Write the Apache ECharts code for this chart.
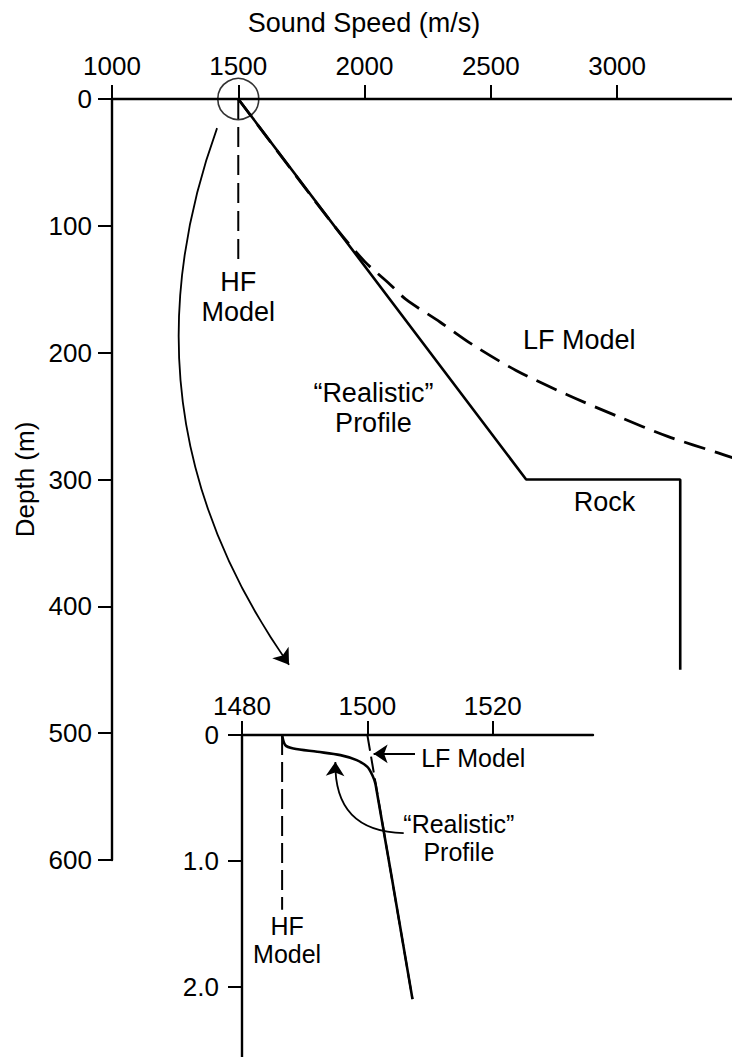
<!DOCTYPE html>
<html>
<head>
<meta charset="utf-8">
<title>Sound speed profiles</title>
<script src="https://cdn.jsdelivr.net/npm/echarts@6/dist/echarts.min.js"></script>
<style>
  html, body { margin: 0; padding: 0; background: #fff; }
  #chart { width: 732px; height: 1057px; }
</style>
</head>
<body>
<div id="chart"></div>
<script>
// ---- Main panel: sound speed (m/s) vs depth (m) ----
const mainSpeedRange = [1000, 3455];
const mainSpeedStep = 500;
const mainDepthRange = [0, 600];
const mainDepthStep = 100;

const realisticProfile = [[1500, 0], [2640, 300], [3250, 300], [3250, 450]];
const lfModel = [
  [1500, 0], [1700, 53], [1880, 100], [2000, 128], [2100, 146], [2164, 158],
  [2300, 176], [2430, 194], [2600, 214], [2800, 233], [3000, 250],
  [3200, 266], [3400, 279], [3460, 283]
];
const hfModel = [[1500, 0], [1500, 130]];
const zoomCircle = [[1500, 0]];
const zoomArrow = [[1416, 23], [1701, 446]];
const mainNotes = [
  { text: 'HF\nModel', at: [1500, 156] },
  { text: 'LF Model', at: [2850, 190] },
  { text: '\u201CRealistic\u201D\nProfile', at: [2035, 244] },
  { text: 'Rock', at: [2950, 318] }
];

// ---- Inset: top 2.5 m of the water column ----
const insetSpeedRange = [1480, 1536];
const insetSpeedStep = 20;
const insetDepthRange = [0, 2.56];
const insetDepthStep = 1;

const insetRealistic = [
  [1486.4, 0], [1486.9, 0.08], [1488.2, 0.107], [1492.0, 0.133], [1495.7, 0.16],
  [1498.3, 0.2], [1500.0, 0.253], [1500.8, 0.32], [1501.3, 0.39], [1507.2, 2.1]
];
const insetLf = [[1500, 0], [1507.2, 2.1]];
const insetHf = [[1486.4, 0], [1486.4, 1.39]];
const insetLfArrow = [[1507.6, 0.15], [1501.0, 0.15]];
const insetRealArrow = [[1505.8, 0.78], [1494.9, 0.215]];
const insetNotes = [
  { text: 'LF Model', at: [1516.9, 0.183] },
  { text: '\u201CRealistic\u201D\nProfile', at: [1514.6, 0.82] },
  { text: 'HF\nModel', at: [1487.2, 1.63] }
];

const FONT = '"Liberation Sans", Arial, Helvetica, sans-serif';
const INK = '#000';

function valueAxis(opts, label) {
  return Object.assign({
    type: 'value',
    splitLine: { show: false },
    axisLine: { show: true, onZero: false, lineStyle: { color: INK, width: 2.4 } },
    axisTick: { show: true, length: 14, lineStyle: { color: INK, width: 2 } },
    axisLabel: Object.assign({
      color: INK, fontSize: 26, fontFamily: FONT, showMaxLabel: false,
      formatter: v => String(v)
    }, label)
  }, opts);
}

function noteSeries(notes, axisIdx, size, lh) {
  return {
    type: 'scatter',
    xAxisIndex: axisIdx, yAxisIndex: axisIdx,
    symbolSize: 1,
    itemStyle: { color: 'rgba(0,0,0,0)' },
    silent: true,
    z: 5,
    label: {
      show: true, position: 'inside', color: INK, opacity: 1,
      textBorderWidth: 0, textBorderColor: 'transparent',
      fontSize: size, lineHeight: lh, fontFamily: FONT, align: 'center',
      formatter: p => p.name
    },
    data: notes.map(n => ({ name: n.text, value: n.at }))
  };
}

function arrowSeries(pts, axisIdx, curveness, size) {
  return {
    type: 'lines',
    coordinateSystem: 'cartesian2d',
    xAxisIndex: axisIdx, yAxisIndex: axisIdx,
    silent: true,
    symbol: ['none', 'arrow'],
    symbolSize: size,
    lineStyle: { color: INK, width: 1.8, opacity: 1, curveness: curveness },
    data: [{ coords: pts }]
  };
}

const chart = echarts.init(document.getElementById('chart'), null, { renderer: 'svg' });

chart.setOption({
  animation: false,
  backgroundColor: '#fff',
  textStyle: { fontFamily: FONT, color: INK },
  graphic: [{
    type: 'text', x: 364, y: 23,
    style: {
      text: 'Sound Speed (m/s)', fill: INK, font: '27px ' + FONT,
      textAlign: 'center', textVerticalAlign: 'middle'
    }
  }],
  grid: [
    { left: 112, top: 99, right: 0, bottom: 197, outerBoundsMode: 'none' },
    { left: 242, top: 735, right: 139, bottom: 0, outerBoundsMode: 'none' }
  ],
  xAxis: [
    valueAxis({
      gridIndex: 0, position: 'top',
      min: mainSpeedRange[0], max: mainSpeedRange[1], interval: mainSpeedStep
    }, { margin: 20 }),
    valueAxis({
      gridIndex: 1, position: 'top',
      min: insetSpeedRange[0], max: insetSpeedRange[1], interval: insetSpeedStep
    }, { margin: 16 })
  ],
  yAxis: [
    valueAxis({
      gridIndex: 0, inverse: true,
      min: mainDepthRange[0], max: mainDepthRange[1], interval: mainDepthStep,
      name: 'Depth (m)', nameLocation: 'middle', nameRotate: 90, nameGap: 73,
      nameTextStyle: { color: INK, fontSize: 26, fontFamily: FONT }
    }, { margin: 20, showMaxLabel: true }),
    valueAxis({
      gridIndex: 1, inverse: true,
      min: insetDepthRange[0], max: insetDepthRange[1], interval: insetDepthStep
    }, { margin: 23, formatter: v => (v === 0 ? '0' : v.toFixed(1)) })
  ],
  series: [
    {
      name: 'Realistic', type: 'line', xAxisIndex: 0, yAxisIndex: 0,
      data: realisticProfile, symbol: 'none', silent: true,
      lineStyle: { color: INK, width: 2.6 }
    },
    {
      name: 'LF Model', type: 'line', xAxisIndex: 0, yAxisIndex: 0,
      data: lfModel, symbol: 'none', smooth: 0.3, silent: true,
      lineStyle: { color: INK, width: 2.8, type: [22, 10] }
    },
    {
      name: 'HF Model', type: 'line', xAxisIndex: 0, yAxisIndex: 0,
      data: hfModel, symbol: 'none', silent: true,
      lineStyle: { color: INK, width: 2, type: [20, 8] }
    },
    {
      name: 'zoom', type: 'scatter', xAxisIndex: 0, yAxisIndex: 0,
      data: zoomCircle, symbol: 'circle', symbolSize: 41, silent: true,
      itemStyle: { color: 'rgba(0,0,0,0)', borderColor: INK, borderWidth: 1.6 }
    },
    arrowSeries(zoomArrow, 0, -0.26, 15),
    noteSeries(mainNotes, 0, 27, 30),
    {
      name: 'Inset LF', type: 'line', xAxisIndex: 1, yAxisIndex: 1,
      data: insetLf, symbol: 'none', silent: true,
      lineStyle: { color: INK, width: 2, type: [16, 6] }
    },
    {
      name: 'Inset HF', type: 'line', xAxisIndex: 1, yAxisIndex: 1,
      data: insetHf, symbol: 'none', silent: true,
      lineStyle: { color: INK, width: 2, type: [20, 7] }
    },
    {
      name: 'Inset Realistic', type: 'line', xAxisIndex: 1, yAxisIndex: 1,
      data: insetRealistic, symbol: 'none', smooth: 0.3, silent: true,
      lineStyle: { color: INK, width: 2.6 }
    },
    arrowSeries(insetLfArrow, 1, 0, 14),
    arrowSeries(insetRealArrow, 1, 0.5, 14),
    noteSeries(insetNotes, 1, 25, 28)
  ]
});
</script>
</body>
</html>
